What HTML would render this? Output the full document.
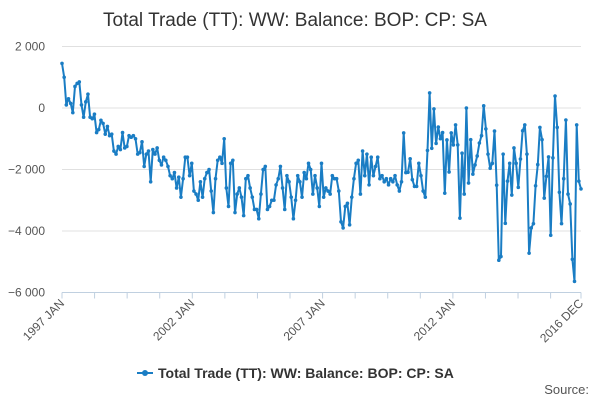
<!DOCTYPE html>
<html><head><meta charset="utf-8"><style>
body{margin:0;background:#fff;font-family:"Liberation Sans",sans-serif;}
svg{display:block}
</style></head><body>
<svg id="chart" width="600" height="400">
<text x="295" y="26" text-anchor="middle" font-size="19" fill="#333">Total Trade (TT): WW: Balance: BOP: CP: SA</text>
<g id="grid"></g><g id="axes"></g><g id="series"></g>
<g>
<line x1="137" y1="373" x2="153" y2="373" stroke="#1a7dc4" stroke-width="2"/>
<circle cx="145" cy="373" r="3" fill="#1a7dc4"/>
<text x="158" y="378" font-size="14" font-weight="bold" fill="#333">Total Trade (TT): WW: Balance: BOP: CP: SA</text>
</g>
<text x="589" y="394" text-anchor="end" font-size="13" fill="#555">Source:</text>
</svg>
<script>
const yTicks=[2000,0,-2000,-4000,-6000];
const yTickLabels=["2 000","0","−2 000","−4 000","−6 000"];
const xLabels=["1997 JAN","2002 JAN","2007 JAN","2012 JAN","2016 DEC"];
const xLabelIdx=[0,60,120,180,239];
const values=[
1450,1000,100,300,150,-150,700,800,850,100,-300,200,
450,-300,-350,-200,-800,-700,-400,-500,-850,-600,-900,-850,
-1400,-1500,-1250,-1350,-800,-1300,-1250,-900,-950,-900,-1000,-1500,
-1450,-1100,-1900,-1500,-1400,-2400,-1350,-1500,-1300,-1700,-1850,-1600,
-1700,-1900,-2200,-2300,-2100,-2600,-2250,-2900,-2300,-1600,-1600,-2200,
-1800,-2700,-2800,-3000,-2400,-2900,-2300,-2100,-2000,-2700,-3400,-2300,
-1700,-1600,-1800,-1000,-2600,-3200,-1800,-1700,-3400,-2800,-2600,-2900,
-3500,-2300,-2200,-2600,-2900,-3300,-3300,-3600,-2800,-2000,-1900,-3300,
-3200,-3000,-3000,-2500,-2300,-1900,-2600,-3300,-2200,-2400,-2900,-3600,
-3000,-2200,-2400,-2900,-2100,-2300,-1800,-2000,-2800,-2200,-2600,-3200,
-1800,-2900,-2600,-2700,-2800,-2200,-2300,-2300,-2700,-3700,-3900,-3200,-3100,
-3800,-2900,-2300,-1800,-1700,-2800,-1400,-2200,-1500,-2500,-1600,-2200,
-1900,-1600,-2300,-2200,-2400,-2300,-2500,-2300,-2400,-2200,-2500,-2700,
-2400,-810,-2100,-2090,-1650,-2330,-2550,-2550,-1800,-2200,-2700,-2900,-1380,490,-1310,-30,-1150,-620,-1000,-800,
-2770,-1040,-2080,-810,-1200,-550,-1200,-3580,-1470,-2800,0,-2440,-1030,-2150,-1850,-1560,-1140,-900,70,-680,
-1500,-1960,-1800,-750,-2510,-4950,-4830,-1500,-3750,-2380,-1800,-2830,-1300,-1800,-2580,-1660,-740,-550,-1500,-4720,
-3900,-3760,-2530,-1840,-630,-1030,-2930,-2220,-1590,-4140,-1620,390,-630,-2740,-3760,-2300,-390,-2800,-3120,-4920,
-5640,-550,-2380,-2630
];
const NS="http://www.w3.org/2000/svg";
const x0=62,x1=581,n=values.length;
function xI(i){return x0+(x1-x0)*i/239;}
function xS(i){return x0+(x1-x0)*i/(n-1);}
function yV(v){return 108-v*(61.5/2000);}
function mk(t,a,p){const e=document.createElementNS(NS,t);for(const k in a)e.setAttribute(k,a[k]);p.appendChild(e);return e;}
const grid=document.getElementById('grid'),axes=document.getElementById('axes'),ser=document.getElementById('series');
yTicks.forEach((v,k)=>{
 if(v>-6000){const g=mk('line',{x1:x0,x2:x1,y1:yV(v),y2:yV(v),stroke:'#e0e0e0'},grid);
 
 }
 const t=mk('text',{x:45,y:yV(v)+4,'text-anchor':'end','font-size':12,fill:'#555'},axes);
 t.textContent=yTickLabels[k];
 
 
});
const ax=mk('line',{x1:x0,x2:x1,y1:yV(-6000),y2:yV(-6000),stroke:'#c0d0e0'},axes);


for(let i=0;i<=240;i+=15){const ti=Math.min(i,239);
 const tk=mk('line',{x1:xI(ti),x2:xI(ti),y1:yV(-6000),y2:yV(-6000)+6,stroke:'#c0d0e0'},axes);
 
 }
xLabels.forEach((l,k)=>{const x=xI(xLabelIdx[k]);
 const t=mk('text',{x:x+3,y:304,'text-anchor':'end','font-size':12,fill:'#555',transform:`rotate(-45 ${x+3} 304)`},axes);
 t.textContent=l;
 
 });
const pts=values.map((v,i)=>xS(i).toFixed(1)+','+yV(v).toFixed(1)).join(' ');
const pl=mk('polyline',{points:pts,fill:'none',stroke:'#1a7dc4','stroke-width':2,'stroke-linejoin':'round'},ser);


values.forEach((v,i)=>{const c=mk('circle',{cx:xS(i),cy:yV(v),r:1.8,fill:'#1a7dc4'},ser);
 
 });
</script>
</body></html>
